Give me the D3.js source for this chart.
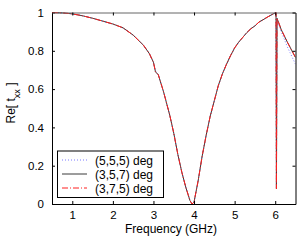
<!DOCTYPE html>
<html>
<head>
<meta charset="utf-8">
<script src="https://cdn.jsdelivr.net/npm/d3@7"></script>
<style>
  body { margin: 0; background: #fff; }
  svg { display: block; font-family: "Liberation Sans", Arial, sans-serif; }
</style>
</head>
<body>
<svg id="chart" width="300" height="242"></svg>
<script>
// frequency samples (GHz)
const freq = [0.5, 0.75, 1.0, 1.25, 1.5, 1.75, 2.0, 2.25, 2.5, 2.75, 2.9, 3.0, 3.05, 3.12, 3.25,
  3.4, 3.5, 3.6, 3.7, 3.8, 3.9, 3.95, 4.0, 4.1, 4.2, 4.3, 4.4, 4.5, 4.6, 4.7, 4.8, 4.9,
  5.0, 5.1, 5.2, 5.3, 5.4, 5.5, 5.6, 5.7, 5.8, 5.9, 6.0, 6.02, 6.03, 6.045, 6.15, 6.3, 6.5];

// Re[t_xx] for each orientation
const re555 = [1.0, 0.998, 0.993, 0.983, 0.970, 0.955, 0.940, 0.920, 0.882, 0.830, 0.785, 0.738, 0.695, 0.672, 0.585,
  0.465, 0.37, 0.26, 0.165, 0.085, 0.018, 0.0, 0.01, 0.12, 0.25, 0.36, 0.46, 0.54, 0.62, 0.68, 0.73, 0.775,
  0.815, 0.845, 0.87, 0.895, 0.915, 0.93, 0.95, 0.962, 0.975, 0.987, 0.998, 1.0, 0.09, 0.96, 0.90, 0.82, 0.73];
const re357 = [1.0, 0.998, 0.993, 0.983, 0.970, 0.955, 0.940, 0.920, 0.882, 0.830, 0.785, 0.740, 0.690, 0.675, 0.585,
  0.465, 0.37, 0.26, 0.165, 0.085, 0.018, 0.0, 0.01, 0.12, 0.25, 0.36, 0.46, 0.54, 0.62, 0.68, 0.73, 0.775,
  0.815, 0.845, 0.87, 0.895, 0.915, 0.93, 0.95, 0.962, 0.975, 0.987, 0.998, 1.0, 0.08, 0.97, 0.91, 0.845, 0.765];
const re375 = [1.0, 0.998, 0.993, 0.983, 0.970, 0.955, 0.940, 0.920, 0.882, 0.830, 0.785, 0.740, 0.690, 0.675, 0.585,
  0.465, 0.37, 0.26, 0.165, 0.085, 0.018, 0.0, 0.01, 0.12, 0.25, 0.36, 0.46, 0.54, 0.62, 0.68, 0.73, 0.775,
  0.815, 0.845, 0.87, 0.895, 0.915, 0.93, 0.95, 0.962, 0.975, 0.987, 0.998, 1.0, 0.08, 0.97, 0.91, 0.845, 0.765];

const seriesNames = ["(5,5,5) deg", "(3,5,7) deg", "(3,7,5) deg"];
const xTicks = [1, 2, 3, 4, 5, 6];
const yTicks = [0, 0.2, 0.4, 0.6, 0.8, 1];

const svg = d3.select("#chart");
const plotLeft = 52, plotRight = 295.5, plotTop = 12.5, plotBottom = 204;

const x = d3.scaleLinear().domain([0.5, 6.5]).range([plotLeft, plotRight]);
const y = d3.scaleLinear().domain([0, 1]).range([plotBottom, plotTop]);

const styles = [
  { color: "#7a7aff", dash: "1,2", width: 1 },
  { color: "#3a3a3a", dash: null, width: 1 },
  { color: "#ff2020", dash: "6,2,1,2", width: 1 }
];
const allSeries = [re555, re357, re375];

// clip
svg.append("clipPath").attr("id", "clip")
  .append("rect").attr("x", plotLeft).attr("y", plotTop - 1)
  .attr("width", plotRight - plotLeft).attr("height", plotBottom - plotTop + 2);

const line = d3.line().x(d => x(d[0])).y(d => y(d[1]));

const plot = svg.append("g").attr("clip-path", "url(#clip)");
allSeries.forEach((vals, i) => {
  plot.append("path")
    .datum(freq.map((f, k) => [f, vals[k]]))
    .attr("fill", "none")
    .attr("stroke", styles[i].color)
    .attr("stroke-width", styles[i].width)
    .attr("stroke-dasharray", styles[i].dash)
    .attr("d", line);
});

// axes, MATLAB style with inward ticks
const xAxis = d3.axisBottom(x).tickValues(xTicks).tickSizeInner(-3).tickSizeOuter(0).tickPadding(6.5).tickFormat(d3.format("d"));
const yAxis = d3.axisLeft(y).tickValues(yTicks).tickSizeInner(-3).tickSizeOuter(0).tickPadding(8)
  .tickFormat(d => d === 0 || d === 1 ? d : d3.format(".1f")(d));

const gx = svg.append("g").attr("transform", `translate(0,${plotBottom})`).call(xAxis);
const gy = svg.append("g").attr("transform", `translate(${plotLeft},0)`).call(yAxis);
const gxTop = svg.append("g").attr("transform", `translate(0,${plotTop})`)
  .call(d3.axisTop(x).tickValues(xTicks).tickSizeInner(-3).tickSizeOuter(0).tickFormat(""));
const gyRight = svg.append("g").attr("transform", `translate(${plotRight},0)`)
  .call(d3.axisRight(y).tickValues(yTicks).tickSizeInner(-3).tickSizeOuter(0).tickFormat(""));

[gx, gy, gxTop, gyRight].forEach(g => {
  g.selectAll("path").attr("stroke", "#000");
  g.selectAll("line").attr("stroke", "#000");
  g.selectAll("text").attr("font-size", 11.5).attr("fill", "#000").attr("font-family", "Liberation Sans, Arial, sans-serif");
});
gxTop.select("path").attr("stroke", "#666");

// axis labels
svg.append("text")
  .attr("x", 171).attr("y", 233)
  .attr("text-anchor", "middle").attr("font-size", 12)
  .text("Frequency (GHz)");

const yl = svg.append("text")
  .attr("transform", `translate(15,103) rotate(-90)`)
  .attr("text-anchor", "middle").attr("font-size", 12);
yl.append("tspan").text("Re[ t");
yl.append("tspan").attr("font-size", 9).attr("dy", 5).text("xx");
yl.append("tspan").attr("dy", -5).text(" ]");

// legend
const lg = svg.append("g");
lg.append("rect").attr("x", 57.5).attr("y", 151).attr("width", 106).attr("height", 46.5)
  .attr("fill", "#fff").attr("stroke", "#000").attr("stroke-width", 1);
seriesNames.forEach((name, i) => {
  const yy = 160 + i * 14;
  lg.append("line").attr("x1", 62).attr("x2", 87).attr("y1", yy).attr("y2", yy)
    .attr("stroke", styles[i].color).attr("stroke-width", styles[i].width)
    .attr("stroke-dasharray", styles[i].dash);
  lg.append("text").attr("x", 95).attr("y", yy + 4.5).attr("font-size", 12).text(name);
});
</script>
</body>
</html>
